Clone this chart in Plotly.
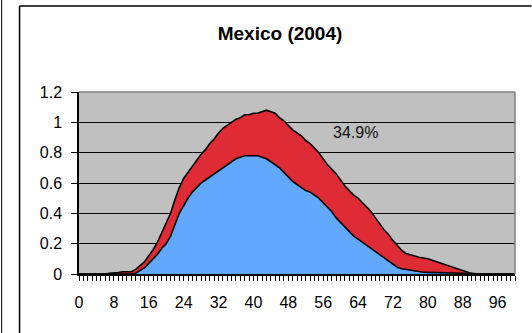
import plotly.graph_objects as go

# ---- data ----
ages = list(range(0, 101))

blue_vals = [
    0, 0, 0, 0, 0, 0, 0, 0, 0, 0,            # 0-9
    0, 0, 0, 0.005, 0.02, 0.04, 0.07, 0.10, 0.13, 0.17,   # 10-19
    0.20, 0.25, 0.32, 0.40, 0.45, 0.50, 0.54, 0.57, 0.60, 0.62,  # 20-29
    0.64, 0.66, 0.68, 0.70, 0.72, 0.74, 0.76, 0.77, 0.78, 0.78,  # 30-39
    0.78, 0.78, 0.77, 0.76, 0.74, 0.72, 0.70, 0.67, 0.64, 0.61,  # 40-49
    0.59, 0.57, 0.55, 0.54, 0.52, 0.50, 0.47, 0.44, 0.41, 0.37,  # 50-59
    0.34, 0.31, 0.28, 0.25, 0.23, 0.21, 0.19, 0.17, 0.15, 0.13,  # 60-69
    0.11, 0.09, 0.07, 0.045, 0.035, 0.03, 0.025, 0.02, 0.015, 0.012,  # 70-79
    0.011, 0.01, 0.008, 0.006, 0.005, 0.004, 0.003, 0.002, 0.001, 0,  # 80-89
    0, 0, 0, 0, 0, 0, 0, 0, 0, 0, 0          # 90-100
]

total_vals = [
    0, 0, 0, 0, 0, 0, 0, 0.005, 0.01, 0.01,   # 0-9
    0.015, 0.015, 0.015, 0.03, 0.055, 0.08, 0.12, 0.16, 0.21, 0.27,  # 10-19
    0.33, 0.40, 0.49, 0.57, 0.63, 0.67, 0.71, 0.75, 0.79, 0.82,  # 20-29
    0.86, 0.89, 0.93, 0.96, 0.98, 1.00, 1.02, 1.03, 1.05, 1.05,  # 30-39
    1.06, 1.06, 1.07, 1.08, 1.07, 1.06, 1.03, 1.01, 0.98, 0.95,  # 40-49
    0.93, 0.91, 0.88, 0.86, 0.83, 0.80, 0.76, 0.72, 0.69, 0.66,  # 50-59
    0.62, 0.58, 0.55, 0.52, 0.50, 0.47, 0.44, 0.41, 0.37, 0.33,  # 60-69
    0.29, 0.26, 0.22, 0.19, 0.155, 0.135, 0.125, 0.115, 0.11, 0.105,  # 70-79
    0.10, 0.09, 0.08, 0.075, 0.065, 0.055, 0.045, 0.035, 0.022, 0.012,  # 80-89
    0.004, 0, 0, 0, 0, 0, 0, 0, 0, 0, 0      # 90-100
]

y_ticks = [0, 0.2, 0.4, 0.6, 0.8, 1.0, 1.2]
y_tick_text = ["0", "0.2", "0.4", "0.6", "0.8", "1", "1.2"]

title_text = "Mexico (2004)"
share_label = "34.9%"

# ---- layout geometry (pixels) ----
W, H = 532, 333
L, R, T, B = 79, 16.5, 92, 59
PW = W - L - R
PH = H - T - B


def px_x(px):
    return (px - L) / PW


def px_y(py):
    return (H - B - py) / PH


RED = "#DE2B35"
BLUE = "#62A8FF"
GRAY = "#C0C0C0"
FONT = "Liberation Sans, Arial, sans-serif"

fig = go.Figure()
fig.add_trace(go.Scatter(
    x=ages, y=total_vals, mode="lines", fill="tozeroy",
    fillcolor=RED, line=dict(color="black", width=1.6), hoverinfo="skip",
    showlegend=False))
fig.add_trace(go.Scatter(
    x=ages, y=blue_vals, mode="lines", fill="tozeroy",
    fillcolor=BLUE, line=dict(color="black", width=1.6), hoverinfo="skip",
    showlegend=False))

fig.add_annotation(x=63.5, y=0.93, xref="x", yref="y", text=share_label,
                   showarrow=False, font=dict(family=FONT, size=16, color="#111"))

shapes = [
    # outer left line
    dict(type="line", xref="paper", yref="paper", x0=px_x(1.5), x1=px_x(1.5),
         y0=px_y(H), y1=px_y(0), line=dict(color="#222", width=1.2)),
    # chart box left & top
    dict(type="line", xref="paper", yref="paper", x0=px_x(19.5), x1=px_x(19.5),
         y0=px_y(H), y1=px_y(6), line=dict(color="black", width=1.5)),
    dict(type="line", xref="paper", yref="paper", x0=px_x(19.5), x1=px_x(W),
         y0=px_y(6), y1=px_y(6), line=dict(color="black", width=1.5)),
    # plot area top & right gray border
    dict(type="line", xref="paper", yref="paper", x0=0, x1=1, y0=1, y1=1,
         line=dict(color="#808080", width=1.5)),
    dict(type="line", xref="paper", yref="paper", x0=1, x1=1, y0=0, y1=1,
         line=dict(color="#808080", width=1.5)),
]

fig.update_layout(
    width=W, height=H,
    margin=dict(l=L, r=R, t=T, b=B, pad=0),
    paper_bgcolor="white", plot_bgcolor=GRAY,
    font=dict(family=FONT, size=16, color="black"),
    title=dict(text="<b>" + title_text + "</b>", x=280 / W, xanchor="center",
               y=1 - 33 / H, yanchor="middle", font=dict(family=FONT, size=19)),
    shapes=shapes,
    showlegend=False,
    xaxis=dict(range=[0, 100], tickmode="linear", tick0=0, dtick=8,
               ticks="outside", ticklen=5, tickcolor="black", tickwidth=1,
               showgrid=False, zeroline=False, showline=True,
               linecolor="black", linewidth=1.5,
               minor=dict(dtick=1, tick0=0, ticks="outside", ticklen=5,
                          tickcolor="black", tickwidth=1, showgrid=False),
               tickfont=dict(size=16), ticklabelstandoff=8, fixedrange=True),
    yaxis=dict(range=[0, 1.2], tickvals=y_ticks, ticktext=y_tick_text,
               ticks="outside", ticklen=6, tickcolor="black", tickwidth=1,
               showgrid=True, gridcolor="black", gridwidth=1,
               zeroline=False, showline=True, linecolor="black", linewidth=1.5,
               tickfont=dict(size=16), ticklabelstandoff=6, fixedrange=True),
)

fig.write_html(
    "out.html",
    config={"displayModeBar": False},
    post_script="document.body.style.margin='0';document.body.style.padding='0';",
)
